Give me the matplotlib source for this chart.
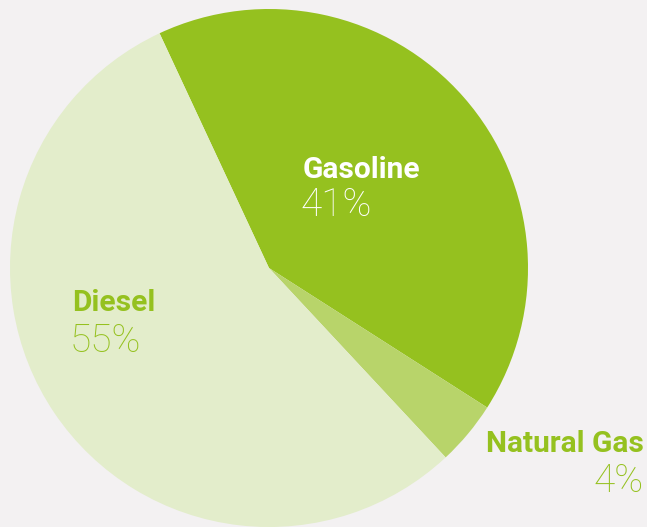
import matplotlib
matplotlib.use("Agg")
import matplotlib.pyplot as plt

# fuel share data (clockwise from the top-left)
fuels = ["Gasoline", "Natural Gas", "Diesel"]
shares = [41, 4, 55]
colors = ["#95c11f", "#b8d46a", "#e3edcb"]

bg = "#f3f1f2"
label_green = "#95c11f"

fig = plt.figure(figsize=(6.47, 5.27), dpi=100, facecolor=bg)
ax = fig.add_axes([0, 0, 1, 1])
ax.set_facecolor(bg)

# pie laid out in pixel-like units so the labels can be placed directly
ax.pie(shares, colors=colors, startangle=115, counterclock=False,
       center=(269, 259), radius=259, frame=True,
       wedgeprops=dict(linewidth=0))
ax.set_xlim(0, 647)
ax.set_ylim(0, 527)
ax.set_aspect("equal")
ax.axis("off")

name_kw = dict(fontfamily="Roboto", fontweight="bold", fontsize=21.5)
pct_kw = dict(fontfamily="Roboto", fontweight="light", fontsize=28)

# Gasoline
ax.text(303, 527 - 178, fuels[0], color="white", ha="left", va="baseline", **name_kw)
ax.text(301, 527 - 216, "%d%%" % shares[0], color="white", ha="left", va="baseline", **pct_kw)

# Diesel
ax.text(72, 527 - 311, fuels[2], color=label_green, ha="left", va="baseline", **name_kw)
ax.text(70, 527 - 352, "%d%%" % shares[2], color=label_green, ha="left", va="baseline", **pct_kw)

# Natural Gas
ax.text(644, 527 - 452, fuels[1], color=label_green, ha="right", va="baseline", **name_kw)
ax.text(644, 527 - 492, "%d%%" % shares[1], color=label_green, ha="right", va="baseline", **pct_kw)

fig.savefig("out.png", dpi=100, facecolor=bg)
